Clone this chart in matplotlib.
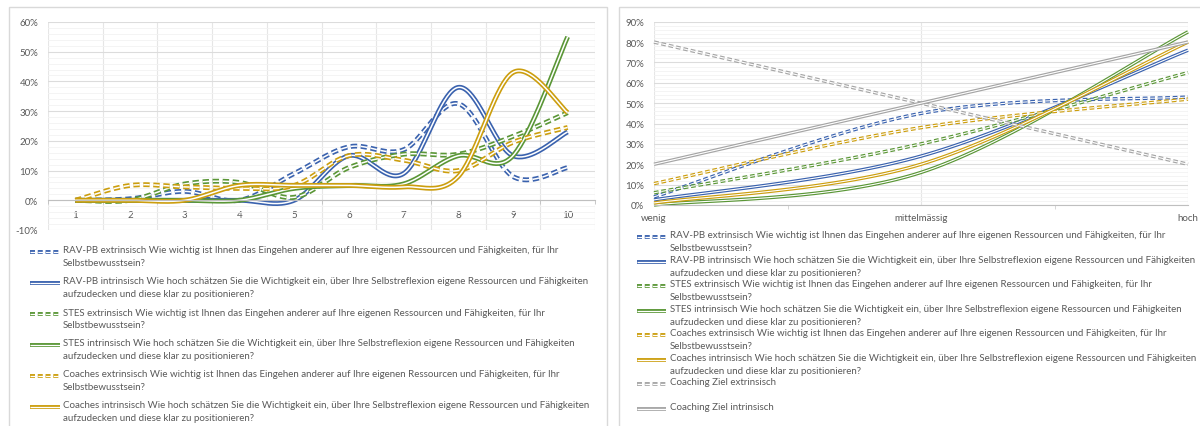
import numpy as np
import matplotlib
matplotlib.use("Agg")
import matplotlib.pyplot as plt
from matplotlib.lines import Line2D
from matplotlib.patches import Rectangle
from matplotlib.ticker import MultipleLocator, FuncFormatter, FixedLocator

plt.rcParams['font.family'] = ['Lato', 'DejaVu Sans']
plt.rcParams['lines.scale_dashes'] = False

# =========================
# DATA
# =========================

# left chart: answers on the 1..10 scale (percent of respondents)
scale_steps = [1, 2, 3, 4, 5, 6, 7, 8, 9, 10]

rav_extr = [0, 0.5, 3, 0, 9, 18, 17, 32.5, 8, 11]
rav_intr = [0, 0, 0, 0, 0, 15, 9, 38, 15, 23]
stes_extr = [0, 0, 5.5, 6, 1, 11, 15.5, 15.5, 21.5, 29.5]
stes_intr = [0, 0, 0, 0, 4, 5, 5.5, 15, 15, 55]
coach_extr = [0, 5, 4.5, 4, 5, 15, 13.5, 10, 19.5, 24.5]
coach_intr = [0, 0, 0, 5, 5, 5, 4.5, 8, 43, 29.5]

# right chart: grouped answers wenig / mittelmässig / hoch
levels = ["wenig", "mittelmässig", "hoch"]

rav_extr_lvl = [4, 45, 53]
rav_intr_lvl = [2.5, 24, 76]
stes_extr_lvl = [6, 30, 65]
stes_intr_lvl = [0, 16, 85]
coach_extr_lvl = [10.5, 38, 52]
coach_intr_lvl = [1, 20, 80]
ziel_extr_lvl = [80, 50, 20]
ziel_intr_lvl = [20, 50, 80]

labels = [
    "RAV-PB extrinsisch Wie wichtig ist Ihnen das Eingehen anderer auf Ihre eigenen Ressourcen und Fähigkeiten, für Ihr\nSelbstbewusstsein?",
    "RAV-PB intrinsisch Wie hoch schätzen Sie die Wichtigkeit ein, über Ihre Selbstreflexion eigene Ressourcen und Fähigkeiten\naufzudecken und diese klar zu positionieren?",
    "STES extrinsisch Wie wichtig ist Ihnen das Eingehen anderer auf Ihre eigenen Ressourcen und Fähigkeiten, für Ihr\nSelbstbewusstsein?",
    "STES intrinsisch Wie hoch schätzen Sie die Wichtigkeit ein, über Ihre Selbstreflexion eigene Ressourcen und Fähigkeiten\naufzudecken und diese klar zu positionieren?",
    "Coaches extrinsisch Wie wichtig ist Ihnen das Eingehen anderer auf Ihre eigenen Ressourcen und Fähigkeiten, für Ihr\nSelbstbewusstsein?",
    "Coaches intrinsisch Wie hoch schätzen Sie die Wichtigkeit ein, über Ihre Selbstreflexion eigene Ressourcen und Fähigkeiten\naufzudecken und diese klar zu positionieren?",
    "Coaching Ziel extrinsisch",
    "Coaching Ziel intrinsisch",
]

BLUE = "#3A62AE"
GREEN = "#5A9636"
GOLD = "#CC9E0E"
GRAY = "#A5A5A5"
TEXT = "#595959"

left_series = [rav_extr, rav_intr, stes_extr, stes_intr, coach_extr, coach_intr]
right_series = [rav_extr_lvl, rav_intr_lvl, stes_extr_lvl, stes_intr_lvl,
                coach_extr_lvl, coach_intr_lvl, ziel_extr_lvl, ziel_intr_lvl]
colors = [BLUE, BLUE, GREEN, GREEN, GOLD, GOLD, GRAY, GRAY]
dashed = [True, False, True, False, True, False, True, False]

W, H = 1200, 427


def fx(px):
    return px / W


def fy(py):
    return 1 - py / H


def smooth(xs, ys, n=40):
    # excel style smoothed line: bezier segments with catmull-rom handles
    P = np.column_stack([xs, ys]).astype(float)
    P = np.vstack([P[0], P, P[-1]])
    t = np.linspace(0, 1, n)[:, None]
    pts = []
    for i in range(1, len(P) - 2):
        p0, p3 = P[i], P[i + 1]
        c1 = p0 + (P[i + 1] - P[i - 1]) / 6
        c2 = p3 - (P[i + 2] - P[i]) / 6
        seg = ((1 - t) ** 3) * p0 + 3 * ((1 - t) ** 2) * t * c1 + 3 * (1 - t) * t ** 2 * c2 + t ** 3 * p3
        pts.append(seg if i == 1 else seg[1:])
    pts = np.vstack(pts)
    return pts[:, 0], pts[:, 1]


def double_line(ax, x, y, color, is_dashed, outer, inner, dash):
    ls = (0, dash) if is_dashed else '-'
    kw = dict(ls=ls, solid_capstyle='butt', dash_capstyle='butt', clip_on=False)
    ax.plot(x, y, color=color, lw=outer, **kw)
    ax.plot(x, y, color='white', lw=inner, **kw)


def legend_entry(x0, x1, y, tx, color, is_dashed, text):
    ls = (0, (3.6, 2.0)) if is_dashed else '-'
    for c, lw in ((color, 2.8), ('white', 0.9)):
        fig.add_artist(Line2D([fx(x0), fx(x1)], [fy(y), fy(y)], color=c, lw=lw, ls=ls,
                              solid_capstyle='butt', dash_capstyle='butt'))
    fig.text(fx(tx), fy(y - 6.5), text, ha='left', va='top', fontsize=7, color=TEXT,
             linespacing=1.55)


pct = FuncFormatter(lambda v, _: f"{v:.0f}%")

fig = plt.figure(figsize=(12, 4.27), dpi=100)

# panel frames
for x0, x1 in ((9, 607), (619, 1210)):
    fig.add_artist(Rectangle((fx(x0), fy(440)), fx(x1) - fx(x0), fy(8) - fy(440),
                             transform=fig.transFigure, fill=False, ec="#D9D9D9", lw=1))

# =========================
# LEFT CHART
# =========================

ax = fig.add_axes([fx(48), fy(231), fx(595) - fx(48), fy(23) - fy(231)])
ax.set_xlim(0.5, 10.5)
ax.set_ylim(-10, 60)
for s in ('top', 'right', 'left'):
    ax.spines[s].set_visible(False)
ax.spines['bottom'].set_position(('data', 0))
ax.spines['bottom'].set_color('#BFBFBF')
ax.set_xticks(scale_steps)
ax.set_xticklabels([str(s) for s in scale_steps])
ax.xaxis.set_minor_locator(FixedLocator(np.arange(0.5, 11, 1)))
ax.yaxis.set_major_locator(MultipleLocator(10))
ax.yaxis.set_minor_locator(MultipleLocator(2))
ax.yaxis.set_major_formatter(pct)
ax.grid(which='major', axis='y', color='#DCDCDC', lw=0.8)
ax.grid(which='minor', axis='y', color='#F2F2F2', lw=0.6)
ax.grid(which='minor', axis='x', color='#E6E6E6', lw=0.8)
ax.tick_params(axis='x', which='major', length=0, pad=7, labelsize=7, labelcolor=TEXT)
ax.tick_params(axis='x', which='minor', length=3, color='#BFBFBF')
ax.tick_params(axis='y', which='both', length=0, pad=7, labelsize=7, labelcolor=TEXT)
ax.set_axisbelow(True)

for vals, c, d in zip(left_series, colors, dashed):
    sx, sy = smooth(scale_steps, vals)
    double_line(ax, sx, sy, c, d, 3.5, 1.1, (4.6, 2.6))

# =========================
# RIGHT CHART
# =========================

ax2 = fig.add_axes([fx(654), fy(206), fx(1188) - fx(654), fy(22.7) - fy(206)])
lvl_x = list(range(len(levels)))
ax2.set_xlim(0, 2)
ax2.set_ylim(0, 90)
for s in ('top', 'right', 'left'):
    ax2.spines[s].set_visible(False)
ax2.spines['bottom'].set_color('#BFBFBF')
ax2.set_xticks(lvl_x)
ax2.set_xticklabels(levels)
ax2.xaxis.set_minor_locator(FixedLocator([0.5, 1.5]))
ax2.yaxis.set_major_locator(MultipleLocator(10))
ax2.yaxis.set_minor_locator(MultipleLocator(2))
ax2.yaxis.set_major_formatter(pct)
ax2.grid(which='major', axis='y', color='#DCDCDC', lw=0.8)
ax2.grid(which='minor', axis='y', color='#F2F2F2', lw=0.6)
ax2.grid(which='major', axis='x', color='#E6E6E6', lw=0.8)
ax2.tick_params(axis='x', which='major', length=0, pad=6, labelsize=7, labelcolor=TEXT)
ax2.tick_params(axis='x', which='minor', length=3, color='#D0D0D0')
ax2.tick_params(axis='y', which='both', length=0, pad=7, labelsize=7, labelcolor=TEXT)
ax2.set_axisbelow(True)

for vals, c, d in zip(right_series, colors, dashed):
    sx, sy = smooth(lvl_x, vals)
    double_line(ax2, sx, sy, c, d, 2.5, 0.8, (3.4, 2.0))

# =========================
# LEGENDS
# =========================

for i in range(6):
    legend_entry(30, 60, 253 + 31 * i, 63, colors[i], dashed[i], labels[i])

for i in range(8):
    legend_entry(637, 666, 238 + 24.5 * i, 670, colors[i], dashed[i], labels[i])

fig.savefig("out.png", dpi=100, facecolor='white')
